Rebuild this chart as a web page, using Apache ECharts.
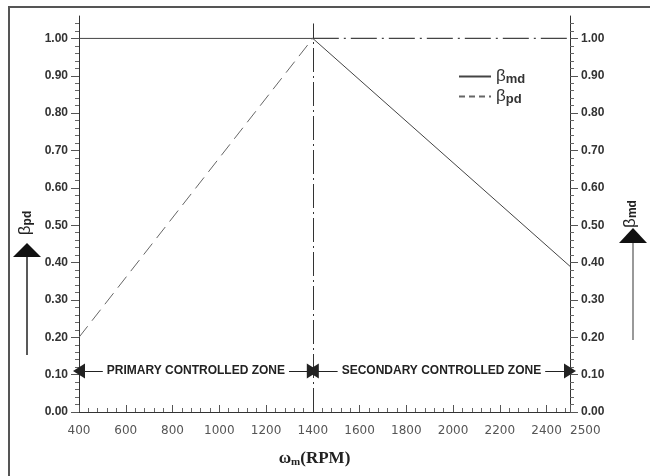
<!DOCTYPE html>
<html>
<head>
<meta charset="utf-8">
<script src="https://cdn.jsdelivr.net/npm/echarts@6/dist/echarts.min.js"></script>
<style>
html,body{margin:0;padding:0;background:#fff;}
#chart{width:650px;height:476px;}
</style>
</head>
<body>
<div id="chart"></div>
<script>
// ---- data ----
const rpm = [400, 1400, 2500];
const betaMd = [1.00, 1.00, 0.39];
const betaPd = [0.20, 1.00, 1.00];
const xTickLabels = [400, 600, 800, 1000, 1200, 1400, 1600, 1800, 2000, 2200, 2400, 2500];
const yTickLabels = [0.00, 0.10, 0.20, 0.30, 0.40, 0.50, 0.60, 0.70, 0.80, 0.90, 1.00];
const zoneNames = ['PRIMARY CONTROLLED ZONE', 'SECONDARY CONTROLLED ZONE'];
const zoneBounds = [400, 1400, 2500];
const zoneLevel = 0.11;
const boundaryTop = 1.04;

const mdData = rpm.map((x, i) => [x, betaMd[i]]);
const pdRise = rpm.slice(0, 2).map((x, i) => [x, betaPd[i]]);
const pdFlat = rpm.slice(1).map((x, i) => [x, betaPd[i + 1]]);

const chart = echarts.init(document.getElementById('chart'));

const yLabelStyle = {
  fontFamily: 'Liberation Sans, Arial, sans-serif',
  fontWeight: 'bold', fontSize: 12, color: '#333'
};

function yAxisCfg(pos, nameRich, nameGap, namePad) {
  return {
    type: 'value', position: pos, min: 0, max: 1.06, interval: 0.1,
    axisLine: { show: true, onZero: false, lineStyle: { color: '#333', width: 1 } },
    axisTick: { show: true, inside: false, length: 8, lineStyle: { color: '#555' }, customValues: yTickLabels },
    minorTick: { show: true, splitNumber: 5, length: 4, lineStyle: { color: '#666' } },
    splitLine: { show: false },
    axisLabel: Object.assign({ margin: 11, customValues: yTickLabels, formatter: v => v.toFixed(2) }, yLabelStyle),
    name: nameRich, nameLocation: 'middle', nameRotate: 90, nameGap: nameGap,
    nameTextStyle: {
      padding: namePad,
      rich: {
        b: { fontFamily: 'Liberation Sans, Arial, sans-serif', fontSize: 17, color: '#222' },
        s: { fontFamily: 'Liberation Sans, Arial, sans-serif', fontSize: 12, fontWeight: 'bold', color: '#222', padding: [5, 0, 0, 0] }
      }
    }
  };
}

const option = {
  animation: false,
  backgroundColor: '#fff',
  color: ['#444', '#666', '#555', '#222'],
  grid: { left: 79, right: 80, top: 16, bottom: 64, containLabel: false },
  legend: {
    orient: 'vertical', left: 453, top: 63, itemGap: 2, itemWidth: 32, itemHeight: 14,
    data: [{ name: 'βmd' }, { name: 'βpd', lineStyle: { type: [6, 4] } }],
    itemStyle: { opacity: 0 },
    formatter: n => '{b|β}{s|' + n.slice(1) + '}',
    textStyle: {
      rich: {
        b: { fontFamily: 'Liberation Sans, Arial, sans-serif', fontSize: 17, color: '#333' },
        s: { fontFamily: 'Liberation Sans, Arial, sans-serif', fontSize: 13, fontWeight: 'bold', color: '#333', padding: [6, 0, 0, 0] }
      }
    }
  },
  xAxis: {
    type: 'value', min: 400, max: 2500, interval: 200,
    axisLine: { show: true, onZero: false, lineStyle: { color: '#333' } },
    axisTick: { show: true, inside: true, length: 7, lineStyle: { color: '#555' } },
    minorTick: { show: true, splitNumber: 5, length: 4, lineStyle: { color: '#666' } },
    splitLine: { show: false },
    axisLabel: {
      fontFamily: 'DejaVu Sans, Verdana, sans-serif', fontSize: 12, color: '#555', margin: 13,
      showMaxLabel: true, showMinLabel: true, alignMaxLabel: 'left',
      customValues: xTickLabels, formatter: v => String(v)
    },
    name: '{w|ω}{m|m}{w|(RPM)}', nameLocation: 'middle', nameGap: 38,
    nameTextStyle: {
      padding: [0, 20, 0, 0],
      rich: {
        w: { fontFamily: 'Liberation Serif, Times New Roman, serif', fontSize: 17, fontWeight: 'bold', color: '#222' },
        m: { fontFamily: 'Liberation Serif, Times New Roman, serif', fontSize: 11, fontWeight: 'bold', color: '#222', padding: [7, 0, 0, 0] }
      }
    }
  },
  yAxis: [
    yAxisCfg('left', '{b|β}{s|pd}', 44, [0, 18, 0, 0]),
    yAxisCfg('right', '{b|β}{s|md}', 52, 0)
  ],
  series: [
    {
      name: 'βmd', type: 'line', data: mdData, symbol: 'none', yAxisIndex: 0,
      itemStyle: { color: '#444' },
      lineStyle: { color: '#444', width: 1 }, z: 3
    },
    {
      name: 'βpd', type: 'line', data: pdRise, symbol: 'none', yAxisIndex: 0,
      itemStyle: { color: '#666' },
      lineStyle: { color: '#666', width: 1, type: [14, 7] }, z: 3
    },
    {
      name: 'βpd flat', type: 'line', data: pdFlat, symbol: 'none', yAxisIndex: 0,
      itemStyle: { color: '#444' },
      lineStyle: { color: '#444', width: 1.2, type: [26, 5, 2, 5] }, z: 3,
      markLine: {
        silent: true, symbol: 'none', animation: false,
        lineStyle: { color: '#333', width: 1, type: [24, 4, 2, 4] },
        label: { show: false },
        data: [[{ coord: [zoneBounds[1], 0] }, { coord: [zoneBounds[1], boundaryTop] }]]
      }
    },
    {
      name: 'zones', type: 'line', data: [], symbol: 'none', yAxisIndex: 0,
      markLine: {
        silent: true, animation: false,
        symbol: ['triangle', 'triangle'], symbolSize: [15, 12], symbolOffset: 0,
        lineStyle: { color: '#222', width: 1, type: 'solid' },
        itemStyle: { color: '#111' },
        label: {
          show: true, position: 'middle', distance: 0, verticalAlign: 'middle',
          fontFamily: 'Liberation Sans, Arial, sans-serif', fontWeight: 'bold', fontSize: 12, color: '#222',
          backgroundColor: '#fff', padding: [1, 4],
          formatter: p => p.name
        },
        data: zoneNames.map((n, i) => [
          { name: n, coord: [zoneBounds[i], zoneLevel] },
          { coord: [zoneBounds[i + 1], zoneLevel] }
        ])
      }
    }
  ],
  graphic: [
    { type: 'rect', shape: { x: 9, y: 7, width: 700, height: 520 }, style: { fill: null, stroke: '#555', lineWidth: 2 }, z: -1 },
    { type: 'polygon', shape: { points: [[27, 243], [13, 257], [41, 257]] }, style: { fill: '#111' } },
    { type: 'line', shape: { x1: 27, y1: 257, x2: 27, y2: 355 }, style: { stroke: '#222', lineWidth: 1.5 } },
    { type: 'polygon', shape: { points: [[633, 228], [619, 243], [647, 243]] }, style: { fill: '#111' } },
    { type: 'line', shape: { x1: 633, y1: 243, x2: 633, y2: 340 }, style: { stroke: '#777', lineWidth: 1.5 } }
  ]
};
chart.setOption(option);
</script>
</body>
</html>
